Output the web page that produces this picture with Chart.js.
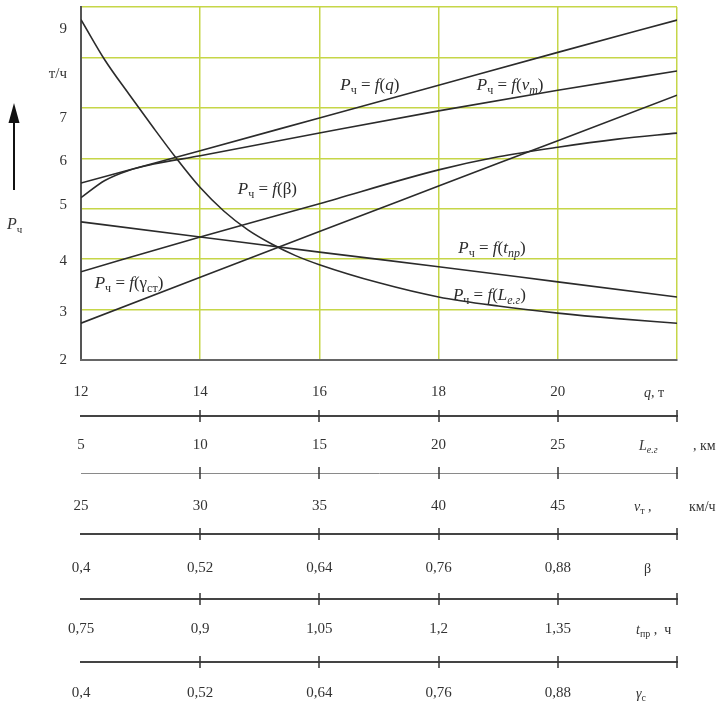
<!DOCTYPE html>
<html>
<head>
<meta charset="utf-8">
<title>Производительность автомобиля</title>
<script src="https://cdn.jsdelivr.net/npm/chart.js@4.4.1/dist/chart.umd.min.js"></script>
<style>
  html, body { margin: 0; padding: 0; background: #fff; }
  #wrap { width: 716px; height: 704px; position: relative; }
</style>
</head>
<body>
<div id="wrap"><canvas id="nomo"></canvas></div>
<script>
// Vertical scale: productivity P, t/h
const pGrid = [2, 3, 4, 5, 6, 7, 8, 9];
const pLabels = ["2", "3", "4", "5", "6", "7", "т/ч", "9"];

// Horizontal scales (tick labels) and their right ends
const qTicks = [12, 14, 16, 18, 20];
const qEnd = 22;
const lenTicks = [5, 10, 15, 20, 25];
const lenEnd = 30;
const speedTicks = [25, 30, 35, 40, 45];
const speedEnd = 50;
const betaTicks = [0.4, 0.52, 0.64, 0.76, 0.88];
const betaEnd = 1.0;
const idleTicks = [0.75, 0.9, 1.05, 1.2, 1.35];
const idleEnd = 1.5;
const gammaTicks = [0.4, 0.52, 0.64, 0.76, 0.88];
const gammaEnd = 1.0;

// P = f(q)
const qX = [12, 14, 16, 18, 20, 22];
const pByQ = [5.51, 6.15, 6.8, 7.45, 8.1, 8.74];
// P = f(L)
const lenX = [5, 6, 7, 8, 9, 10, 11, 12, 13, 14, 15, 17.5, 20, 22.5, 25, 27.5, 30];
const pByLen = [8.75, 7.95, 7.28, 6.63, 6.0, 5.42, 4.95, 4.58, 4.3, 4.07, 3.89, 3.53, 3.25, 3.07, 2.93, 2.82, 2.73];
// P = f(v)
const speedX = [25, 26, 27, 28, 30, 35, 40, 45, 50];
const pBySpeed = [5.22, 5.56, 5.76, 5.88, 6.05, 6.5, 6.94, 7.35, 7.73];
// P = f(beta)
const betaX = [0.4, 0.52, 0.64, 0.76, 0.82, 0.88, 0.94, 1.0];
const pByBeta = [3.75, 4.44, 5.1, 5.77, 6.03, 6.22, 6.38, 6.5];
// P = f(t)
const idleX = [0.75, 0.9, 1.05, 1.2, 1.35, 1.5];
const pByIdle = [4.74, 4.44, 4.14, 3.85, 3.55, 3.25];
// P = f(gamma)
const gammaX = [0.4, 0.52, 0.64, 0.76, 0.88, 1.0];
const pByGamma = [2.73, 3.64, 4.55, 5.45, 6.35, 7.25];

const GRID = "rgb(198, 214, 72)";
const INK = "#2b2b2b";
const SERIF = '"Liberation Serif", "Times New Roman", serif';

Chart.defaults.font.family = SERIF;
Chart.defaults.color = "#333";

const pairs = (xs, ys) => xs.map((x, i) => ({ x: x, y: ys[i] }));
const comma = (v) => String(v).replace(".", ",");
const setTicks = (values) => (scale) => { scale.ticks = values.map((v) => ({ value: v })); };
const fixHeight = (h) => (scale) => { scale.height = h; };
// fixed width, and no extra room asked for the end labels
const fixWidth = (w) => (scale) => {
  scale.width = w;
  scale.paddingTop = 0;
  scale.paddingBottom = 0;
};

function curve(data, axis) {
  return {
    data: data,
    xAxisID: axis,
    borderColor: INK,
    borderWidth: 1.6,
    pointRadius: 0,
    cubicInterpolationMode: "monotone",
    fill: false,
  };
}

function lowerAxis(values, end, weight, height, pad, border) {
  return {
    type: "linear",
    position: "bottom",
    weight: weight,
    min: values[0],
    max: end,
    afterBuildTicks: setTicks([...values, end]),
    afterFit: fixHeight(height),
    grid: { display: false, drawTicks: false },
    border: border,
    ticks: {
      padding: pad,
      maxRotation: 0,
      autoSkip: false,
      color: "#333",
      font: { size: 15 },
      callback: (v) => (values.includes(v) ? comma(v) : ""),
    },
  };
}

// draws a run of text pieces: italic, subscript, fixed offset
function drawRich(ctx, x0, y, parts, size) {
  let x = x0;
  parts.forEach((p) => {
    const s = p.sub ? Math.round(size * 0.68) : size;
    ctx.font = (p.it ? "italic " : "") + s + "px " + SERIF;
    if (p.at !== undefined) x = x0 + p.at;
    ctx.fillText(p.t, x, y + (p.sub ? size * 0.22 : 0));
    x += ctx.measureText(p.t).width;
  });
}

function formula(v, sub, it) {
  const parts = [
    { t: "P", it: true }, { t: "ч", sub: true }, { t: " = " },
    { t: "f", it: true }, { t: "(" }, { t: v, it: it },
  ];
  if (sub) parts.push({ t: sub, sub: true, it: it });
  parts.push({ t: ")" });
  return parts;
}

const curveNames = [
  { q: 16.35, p: 7.35, parts: formula("q", "", true) },
  { q: 18.64, p: 7.35, parts: formula("v", "т", true) },
  { q: 14.63, p: 5.29, parts: formula("β", "", false) },
  { q: 18.33, p: 4.12, parts: formula("t", "пр", true) },
  { q: 18.24, p: 3.19, parts: formula("L", "е.г", true) },
  { q: 12.23, p: 3.43, parts: formula("γ", "ст", false) },
];

const unitNames = [
  { axis: "x", dx: -33, dy: 37, parts: [{ t: "q", it: true }, { t: ", т" }] },
  { axis: "xL", dx: -38, dy: 34, parts: [{ t: "L", it: true }, { t: "е.г", sub: true, it: true }, { t: ", км", at: 54 }] },
  { axis: "xV", dx: -43, dy: 38, parts: [{ t: "v", it: true }, { t: "т", sub: true }, { t: " ," }, { t: "км/ч", at: 55 }] },
  { axis: "xB", dx: -33, dy: 39, parts: [{ t: "β" }] },
  { axis: "xT", dx: -41, dy: 35, parts: [{ t: "t", it: true }, { t: "пр", sub: true }, { t: " ,  ч" }] },
  { axis: "xG", dx: -41, dy: 36, parts: [{ t: "γ", it: true }, { t: "с", sub: true }] },
];

const notes = {
  id: "notes",
  afterDatasetsDraw(chart) {
    const { ctx, scales } = chart;
    ctx.save();
    ctx.fillStyle = INK;
    ctx.textBaseline = "alphabetic";
    curveNames.forEach((n) => {
      drawRich(ctx, scales.x.getPixelForValue(n.q), scales.y.getPixelForValue(n.p), n.parts, 17);
    });
    ctx.restore();
  },
  afterDraw(chart) {
    const { ctx, scales, chartArea } = chart;
    ctx.save();

    // tick marks crossing each lower scale line
    ctx.strokeStyle = "#333";
    ctx.lineWidth = 1.5;
    ["xL", "xV", "xB", "xT", "xG"].forEach((id) => {
      const s = scales[id];
      const y = s.top;
      s.ticks.slice(1).forEach((t) => {
        const x = Math.round(s.getPixelForValue(t.value));
        ctx.beginPath();
        ctx.moveTo(x, y - 6);
        ctx.lineTo(x, y + 6);
        ctx.stroke();
      });
    });

    // scale names at the right end
    ctx.fillStyle = "#333";
    unitNames.forEach((u) => {
      drawRich(ctx, chartArea.right + u.dx, scales[u.axis].top + u.dy, u.parts, 14);
    });

    // arrow and name of the vertical axis
    ctx.strokeStyle = "#111";
    ctx.fillStyle = "#111";
    ctx.lineWidth = 2;
    ctx.beginPath();
    ctx.moveTo(14, 190);
    ctx.lineTo(14, 120);
    ctx.stroke();
    ctx.beginPath();
    ctx.moveTo(14, 103);
    ctx.lineTo(8.5, 123);
    ctx.lineTo(19.5, 123);
    ctx.closePath();
    ctx.fill();
    ctx.fillStyle = "#333";
    drawRich(ctx, 7, 229, [{ t: "P", it: true }, { t: "ч", sub: true }], 16);

    ctx.restore();
  },
};

new Chart(document.getElementById("nomo"), {
  type: "line",
  data: {
    datasets: [
      curve(pairs(qX, pByQ), "x"),
      curve(pairs(lenX, pByLen), "xL"),
      curve(pairs(speedX, pBySpeed), "xV"),
      curve(pairs(betaX, pByBeta), "xB"),
      curve(pairs(idleX, pByIdle), "xT"),
      curve(pairs(gammaX, pByGamma), "xG"),
    ],
  },
  options: {
    responsive: true,
    maintainAspectRatio: false,
    animation: false,
    layout: { padding: { top: 7, right: 39, left: 0, bottom: 0 } },
    plugins: { legend: { display: false }, tooltip: { enabled: false } },
    scales: {
      y: {
        type: "linear",
        position: "left",
        weight: 0,
        min: 2,
        max: 9,
        afterBuildTicks: setTicks(pGrid),
        afterFit: fixWidth(0),
        grid: { color: GRID, lineWidth: 1.5, drawTicks: false },
        border: { color: "#555", width: 2 },
        ticks: { display: false },
      },
      yl: {
        type: "linear",
        position: "left",
        weight: 1,
        min: 2,
        max: 9,
        // label spots along the axis
        afterBuildTicks: setTicks([2, 2.95, 3.96, 5.08, 5.94, 6.8, 7.67, 8.56]),
        afterFit: fixWidth(81),
        grid: { display: false, drawTicks: false },
        border: { display: false },
        ticks: { padding: 14, color: "#333", font: { size: 15 }, callback: (v, i) => pLabels[i] },
      },
      x: {
        type: "linear",
        position: "bottom",
        weight: 0,
        min: qTicks[0],
        max: qEnd,
        afterBuildTicks: setTicks([...qTicks, qEnd]),
        afterFit: fixHeight(56),
        grid: { color: GRID, lineWidth: 1.5, drawTicks: false },
        border: { color: "#666", width: 2 },
        ticks: {
          padding: 23, maxRotation: 0, autoSkip: false, color: "#333", font: { size: 15 },
          callback: (v) => (qTicks.includes(v) ? String(v) : ""),
        },
      },
      xL: lowerAxis(lenTicks, lenEnd, 1, 57, 20, { color: "#444", width: 2 }),
      xV: lowerAxis(speedTicks, speedEnd, 2, 61, 24, { color: "#8a8a8a", width: 1 }),
      xB: lowerAxis(betaTicks, betaEnd, 3, 65, 25, { color: "#444", width: 2 }),
      xT: lowerAxis(idleTicks, idleEnd, 4, 63, 21, { color: "#444", width: 2 }),
      xG: lowerAxis(gammaTicks, gammaEnd, 5, 42, 22, { color: "#444", width: 2 }),
    },
  },
  plugins: [notes],
});
</script>
</body>
</html>
